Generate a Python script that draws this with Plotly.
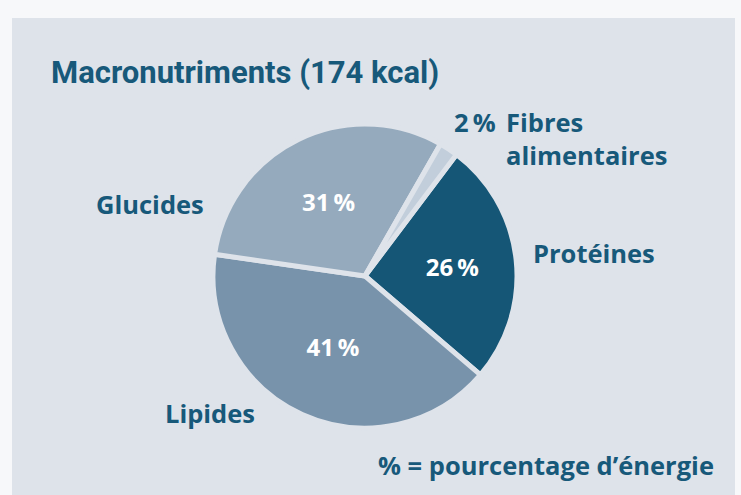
import plotly.graph_objects as go

W, H = 741, 495

categories = ["Protéines", "Lipides", "Glucides", "Fibres alimentaires"]
values = [26, 41, 31, 2]
pct_labels = ["26\u2009%", "41\u2009%", "31\u2009%", ""]
colors = ["#155676", "#7893ab", "#95aabd", "#c2cedb"]

panel = "#dee3ea"
text_col = "#17597a"
TFONT = "Roboto, sans-serif"
LFONT = "Open Sans, Roboto, sans-serif"

cx, cy, r = 365, 276, 152

def px(x):
    return x / W

def py(y):
    return 1 - y / H

fig = go.Figure(go.Pie(
    labels=categories,
    values=values,
    text=pct_labels,
    textinfo="text",
    textposition="inside",
    insidetextorientation="horizontal",
    insidetextfont=dict(color="white", size=24, family=LFONT, weight="bold"),
    marker=dict(colors=colors, line=dict(color=panel, width=5)),
    sort=False,
    direction="clockwise",
    rotation=37,
    hole=0,
    showlegend=False,
    hoverinfo="label+percent",
    domain=dict(x=[px(cx - r), px(cx + r)], y=[py(cy + r), py(cy - r)]),
))

shapes = [dict(type="rect", xref="paper", yref="paper",
               x0=px(12), x1=px(735), y0=0, y1=py(18),
               fillcolor=panel, line=dict(width=0), layer="below")]

def ann(text, x, y, size=25.5, xanchor="left", family=LFONT):
    return dict(text=text, x=px(x), y=py(y), xref="paper", yref="paper",
                showarrow=False, xanchor=xanchor, yanchor="middle", align="left",
                font=dict(size=size, color=text_col, family=family, weight="bold"))

annotations = [
    ann("Macronutriments (174 kcal)", 49, 72, size=31, family=TFONT),
    ann(categories[2], 206, 204, xanchor="right"),
    ann(categories[0], 531, 253),
    ann(categories[1], 163, 413),
    ann("2\u2009%", 498, 122, xanchor="right"),
    ann("Fibres<br>alimentaires", 504, 138),
    ann("% = pourcentage d’énergie", 716, 465, xanchor="right"),
]

fig.update_layout(
    width=W, height=H,
    margin=dict(l=0, r=0, t=0, b=0),
    paper_bgcolor="#f7f8fa",
    plot_bgcolor=panel,
    shapes=shapes,
    annotations=annotations,
)

fig.write_html("out.html", config={"displayModeBar": False},
               post_script="document.body.style.margin='0';document.body.style.overflow='hidden';")
